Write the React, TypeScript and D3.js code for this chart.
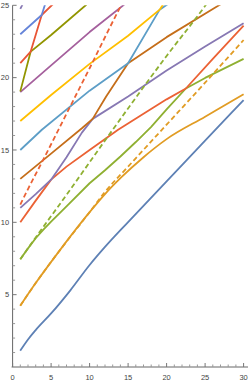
import * as d3 from "d3";
import { useEffect, useRef } from "react";

// points, [x, y]
const blueLow = [[1, 1.13], [2, 1.9], [3, 2.55], [5, 3.7], [7.5, 5.3], [10, 7.05], [12, 8.3], [15, 10.02], [20, 12.83], [25, 15.64], [30, 18.45]];
const orange = [[1, 4.24], [3, 5.8], [6.15, 8.08], [10, 10.7], [12, 11.95], [14.1, 13.1], [17, 14.5], [20, 15.75], [25, 17.3], [30, 18.85]];
const green = [[1, 7.45], [2, 8.2], [3, 8.9], [4, 9.5], [5, 10.05], [7, 11.1], [10, 12.7], [12, 13.6], [14, 14.55], [16, 15.55], [18, 16.6], [20, 17.8], [22.5, 19.25], [25, 19.98], [30, 21.3]];
const red = [[1, 10], [3, 11.5], [5, 12.95], [7, 13.85], [10, 15.0], [13.7, 16.4], [17, 17.5], [20, 18.5], [22.5, 19.25], [26, 21.3], [30, 23.6]];
const purple = [[1, 11], [3, 11.95], [5, 12.95], [7, 14.5], [9, 16.2], [10.4, 17.15], [15, 18.7], [20, 20.5], [25, 22.15], [30, 23.76]];
const brown = [[1, 13], [5, 14.75], [9, 16.5], [10.4, 17.15], [12.15, 18.7], [15, 21.0], [20, 22.8], [26.8, 25], [28, 25.4]];
const lightBlue = [[1, 15], [3.8, 16.4], [10, 19.1], [15, 21.0], [19.1, 24.7], [20.2, 25.1]];
const yellow = [[1, 17], [5, 18.8], [10, 20.95], [15, 22.9], [19.1, 24.7], [19.6, 25.1]];
const magenta = [[1, 19], [5, 20.85], [10, 23.15], [14.5, 25.05]];
const olive = [[1, 19.05], [2.35, 21.8], [5, 22.95], [9.6, 25.05]];
const redTop = [[1, 21], [2.35, 21.8], [3.78, 24.33], [5.08, 25.0], [5.5, 25.2]];
const blueTop = [[1, 23], [3.78, 24.33], [4.3, 25.2]];
const orangeDash = [[1, 4.24], [3, 5.8], [6.15, 8.08], [10, 10.7], [12, 12.1], [15, 13.85], [20, 16.75], [25, 19.65], [30, 22.6]];
const greenDash = [[1, 7.45], [3, 8.95], [7, 11.9], [13, 16.4], [20, 21.5], [25.06, 25], [26, 25.7]];
const redDash = [[1, 11.22], [2, 12.3], [4, 14.35], [7, 17.5], [10, 20.65], [14.1, 25], [14.5, 25.4]];
const purpleDash = [[1, 24.75], [2, 25.8]];

const xTicks = [0, 5, 10, 15, 20, 25, 30];
const yTicks = [5, 10, 15, 20, 25];

const series = [
  { pts: blueLow, color: "#5E81B5", dash: null, smooth: true },
  { pts: orange, color: "#E19C24", dash: null, smooth: true },
  { pts: green, color: "#8FB032", dash: null, smooth: false },
  { pts: red, color: "#EB6235", dash: null, smooth: false },
  { pts: purple, color: "#8778B3", dash: null, smooth: false },
  { pts: brown, color: "#C56E1A", dash: null, smooth: false },
  { pts: lightBlue, color: "#5D9EC7", dash: null, smooth: false },
  { pts: yellow, color: "#FFBF00", dash: null, smooth: false },
  { pts: magenta, color: "#A5609D", dash: null, smooth: false },
  { pts: olive, color: "#929500", dash: null, smooth: false },
  { pts: redTop, color: "#E95536", dash: null, smooth: false },
  { pts: blueTop, color: "#6685D9", dash: null, smooth: false },
  { pts: orangeDash, color: "#E19C24", dash: "5,3", smooth: true },
  { pts: greenDash, color: "#8FB032", dash: "5,3", smooth: true },
  { pts: redDash, color: "#EB6235", dash: "5,3", smooth: true },
  { pts: purpleDash, color: "#8778B3", dash: "5,3", smooth: false },
];

const W = 249;
const H = 382;

export default function App() {
  const ref = useRef<SVGSVGElement>(null);

  useEffect(() => {
    const svg = d3.select(ref.current);
    svg.selectAll("*").remove();

    const x = d3.scaleLinear().domain([0, 30]).range([12.6, 243.6]);
    const y = d3.scaleLinear().domain([0, 25]).range([367, 5.3]);
    const axisColor = "#666";

    svg.append("defs").append("clipPath").attr("id", "plotclip")
      .append("rect")
      .attr("x", x(0)).attr("y", y(25))
      .attr("width", 248 - x(0)).attr("height", y(0) - y(25));

    // axes
    const ax = svg.append("g").attr("stroke", axisColor).attr("stroke-width", 1);
    ax.append("line").attr("x1", x(0) - 1).attr("x2", 248).attr("y1", y(0)).attr("y2", y(0));
    ax.append("line").attr("x1", x(0)).attr("x2", x(0)).attr("y1", y(0)).attr("y2", y(25));

    d3.range(0, 31).forEach(t => {
      const major = t % 5 === 0;
      ax.append("line")
        .attr("x1", x(t)).attr("x2", x(t))
        .attr("y1", y(0)).attr("y2", y(0) - (major ? 4 : 2.5))
        .attr("stroke", major ? "#777" : "#999");
    });
    d3.range(1, 26).forEach(t => {
      const major = t % 5 === 0;
      ax.append("line")
        .attr("y1", y(t)).attr("y2", y(t))
        .attr("x1", x(0)).attr("x2", x(0) + (major ? 4 : 2.5))
        .attr("stroke", major ? "#777" : "#999");
    });

    const lbl = svg.append("g")
      .attr("font-family", "'Liberation Sans', Arial, sans-serif")
      .attr("font-size", 7.5)
      .attr("fill", "#444");
    lbl.selectAll(".xt").data(xTicks).enter().append("text")
      .attr("x", d => x(d)).attr("y", y(0) + 12.5)
      .attr("text-anchor", "middle")
      .text(d => d);
    lbl.selectAll(".yt").data(yTicks).enter().append("text")
      .attr("x", x(0) - 3.5).attr("y", d => y(d) + 2.7)
      .attr("text-anchor", "end")
      .text(d => d);

    const smoothLine = d3.line<number[]>()
      .x(d => x(d[0]))
      .y(d => y(d[1]))
      .curve(d3.curveMonotoneX);
    const sharpLine = d3.line<number[]>()
      .x(d => x(d[0]))
      .y(d => y(d[1]));

    svg.append("g").attr("clip-path", "url(#plotclip)")
      .selectAll("path").data(series).enter().append("path")
      .attr("d", d => (d.smooth ? smoothLine : sharpLine)(d.pts))
      .attr("fill", "none")
      .attr("stroke", d => d.color)
      .attr("stroke-width", 1.8)
      .attr("stroke-dasharray", d => d.dash)
      .attr("stroke-linejoin", "round");
  }, []);

  return (
    <svg ref={ref} width={W} height={H}
      style={{ position: "absolute", left: 0, top: 0, background: "#fff" }} />
  );
}
